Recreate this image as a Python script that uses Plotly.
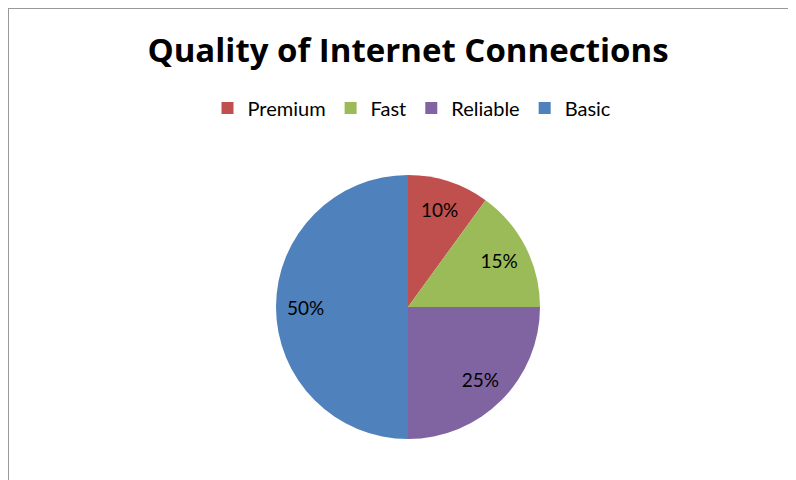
import plotly.graph_objects as go

categories = ["Premium", "Fast", "Reliable", "Basic"]
values = [10, 15, 25, 50]
colors = ["#C0504D", "#9BBB59", "#8064A2", "#4F81BD"]
title_text = "Quality of Internet Connections"

W, H = 788, 472
cx, cy, r = 400, 299, 132
dom = dict(x=[(cx - r) / W, (cx + r) / W], y=[(H - cy - r) / H, (H - cy + r) / H])

fig = go.Figure()
fig.add_trace(go.Pie(
    labels=categories,
    values=values,
    marker=dict(colors=colors, line=dict(width=0)),
    sort=False,
    direction="clockwise",
    rotation=0,
    textinfo="none",
    domain=dom,
    hoverinfo="label+percent",
))
# transparent ring carrying the percentage labels (places them near 3/4 radius)
fig.add_trace(go.Pie(
    labels=categories,
    values=values,
    marker=dict(colors=["rgba(0,0,0,0)"] * len(values), line=dict(width=0)),
    sort=False,
    direction="clockwise",
    rotation=0,
    hole=0.55,
    textinfo="percent",
    textposition="inside",
    insidetextorientation="horizontal",
    textfont=dict(family="Lato", size=19, color="black"),
    domain=dom,
    showlegend=False,
    hoverinfo="skip",
))

fig.update_layout(
    width=W, height=H,
    margin=dict(l=0, r=0, t=0, b=0),
    paper_bgcolor="white",
    plot_bgcolor="white",
    title=dict(text="<b>" + title_text + "</b>", x=cx / W, xanchor="center",
               y=1 - 42 / H, yanchor="middle", yref="container",
               font=dict(family="Open Sans", size=33, color="black")),
    legend=dict(orientation="h", x=404 / W, xanchor="center", y=1 - 100 / H, yanchor="middle",
                font=dict(family="Lato", size=20, color="black"),
                traceorder="normal", itemwidth=30),
    shapes=[dict(type="rect", xref="paper", yref="paper",
                 x0=0, x1=1.05, y0=-0.05, y1=1,
                 line=dict(color="#999999", width=2))],
)

fig.write_html("out.html")
